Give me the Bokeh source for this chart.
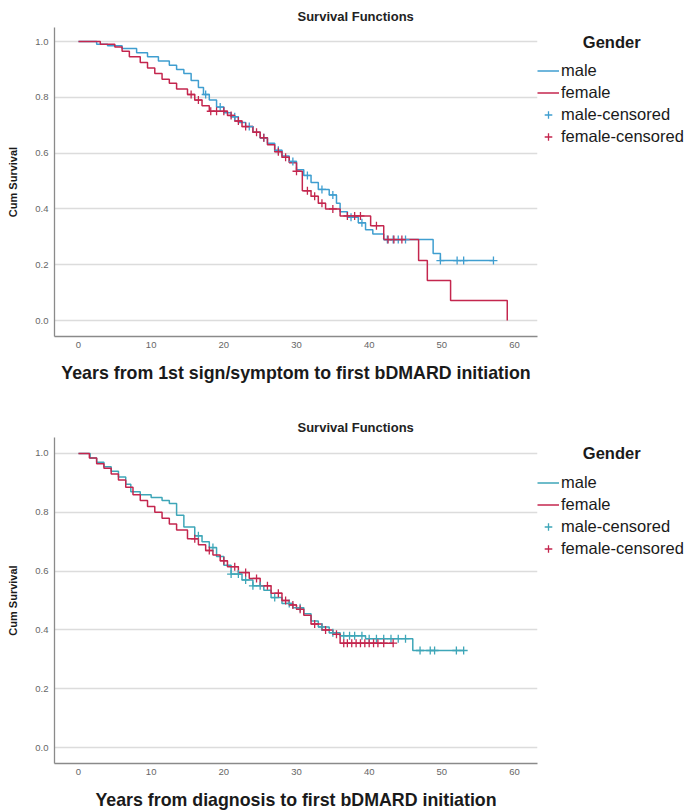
import numpy as np
from bokeh.plotting import figure
from bokeh.models import (FixedTicker, Legend, LegendItem, Range1d,
                          ColumnDataSource, NumeralTickFormatter)
from bokeh.layouts import column
from bokeh.embed import file_html
from bokeh.resources import INLINE

FONT = "Liberation Sans"
MALE_TOP = "#3f9ed0"
MALE_BOTTOM = "#3ea6b8"
FEMALE = "#c4264e"

# ---- Kaplan-Meier estimates: time from 1st sign/symptom ----
sym_male_t = [0, 2.5, 4, 6, 8, 9.5, 11, 12.5, 13.5, 14.5, 15.5, 16.5, 17.2, 18, 19, 20,
              21, 22, 23, 24, 25, 26, 27, 28, 29, 30, 31, 32, 33, 34.5, 35.5, 36, 37,
              38.5, 39.5, 40.5, 42, 48.8, 49.8]
sym_male_s = [1.0, 0.99, 0.985, 0.975, 0.96, 0.945, 0.93, 0.915, 0.9, 0.885, 0.86, 0.835,
              0.81, 0.79, 0.765, 0.745, 0.73, 0.71, 0.695, 0.675, 0.655, 0.635, 0.61, 0.59,
              0.57, 0.54, 0.52, 0.495, 0.47, 0.45, 0.42, 0.39, 0.37, 0.35, 0.325, 0.31,
              0.29, 0.24, 0.215]
sym_male_last = 57.1
sym_male_cens = [17.5, 19.5, 21.5, 23.5, 25.5, 27.5, 29.5, 31.5, 33.5, 35, 37.5, 39,
                 42.5, 43.3, 44, 45, 49.8, 52.1, 53, 57.1]

sym_female_t = [0, 3, 5, 6, 7, 8.5, 9.5, 10.5, 11.5, 12.5, 13.5, 15, 16, 17, 18, 20.5,
                21.5, 22.5, 24, 25, 26, 27, 28, 29, 30, 30.8, 32, 33, 34, 36, 40.2, 42,
                46.8, 48, 51.2, 59]
sym_female_s = [1.0, 0.99, 0.98, 0.965, 0.945, 0.925, 0.905, 0.885, 0.865, 0.85, 0.83,
                0.81, 0.79, 0.77, 0.75, 0.735, 0.715, 0.695, 0.675, 0.655, 0.63, 0.605,
                0.585, 0.565, 0.535, 0.465, 0.445, 0.42, 0.40, 0.375, 0.34, 0.29, 0.215,
                0.143, 0.072, 0.0]
sym_female_last = 59
sym_female_cens = [15.5, 16.5, 18.2, 19, 20, 21, 22, 23, 24.5, 25.5, 27.5, 28.5, 30,
                   31.5, 32.5, 33.5, 35, 37, 38, 38.8, 41, 42.6, 43.4, 44.5]

# ---- Kaplan-Meier estimates: time from diagnosis ----
dx_male_t = [0, 1.6, 2.5, 3.5, 4.5, 5.5, 6.5, 7.2, 8.5, 10, 11.5, 12.5, 13.5, 14.5, 16,
             17, 18, 19, 20, 21, 22.5, 24, 25.5, 26.5, 28, 29.5, 31, 32, 33, 34.5, 36,
             39.5, 46]
dx_male_s = [1.0, 0.985, 0.97, 0.955, 0.94, 0.92, 0.895, 0.87, 0.86, 0.85, 0.84, 0.83,
             0.79, 0.75, 0.72, 0.70, 0.68, 0.65, 0.62, 0.59, 0.57, 0.55, 0.535, 0.51,
             0.49, 0.475, 0.455, 0.43, 0.41, 0.39, 0.38, 0.37, 0.33]
dx_male_last = 53
dx_male_cens = [16.5, 18.5, 21, 22, 23, 24, 25, 27, 29, 30.5, 33.5, 35, 36.5, 37.3, 38,
                39, 40, 41, 42, 43, 44, 45, 47, 48.4, 49, 52, 53]

dx_female_t = [0, 1.5, 2.5, 3.5, 4.5, 5.5, 6.5, 7.5, 8.5, 9.5, 10.5, 11.5, 12.5, 13.5,
               15, 16.5, 17.5, 18.5, 19.5, 20.5, 22, 23.5, 25, 26.5, 28, 29, 30, 31, 32,
               33.5, 35, 36]
dx_female_s = [1.0, 0.985, 0.965, 0.95, 0.93, 0.91, 0.885, 0.86, 0.84, 0.82, 0.80, 0.78,
               0.76, 0.74, 0.71, 0.69, 0.67, 0.655, 0.635, 0.615, 0.595, 0.575, 0.55,
               0.525, 0.50, 0.485, 0.47, 0.45, 0.42, 0.40, 0.385, 0.355]
dx_female_last = 43.3
dx_female_cens = [16, 18, 20, 21.5, 23, 24.5, 26, 27.5, 28.5, 29.5, 30.5, 32.5, 34, 35.5,
                  36.5, 37, 37.6, 38.2, 38.8, 39.4, 40, 40.6, 41.2, 42, 43.3]

x_ticks = [0, 10, 20, 30, 40, 50, 60]
y_ticks = [0.0, 0.2, 0.4, 0.6, 0.8, 1.0]
group_labels = ["male", "female", "male-censored", "female-censored"]
legend_title = "Gender"


def step_source(times, surv, last):
    xs, ys = list(times), list(surv)
    if last > xs[-1]:
        xs.append(last)
        ys.append(ys[-1])
    return ColumnDataSource(dict(x=xs, y=ys))


def censor_source(times, surv, cens):
    t = np.asarray(times, dtype=float)
    s = np.asarray(surv, dtype=float)
    idx = np.searchsorted(t, np.asarray(cens, dtype=float), side="right") - 1
    return ColumnDataSource(dict(x=list(cens), y=list(s[idx])))


def km_panel(curves, male_color, x_title, frame_top, frame_h, total_h,
             y_pad_top, y_pad_bottom, title_standoff, legend_pos, legend_title_standoff):
    p = figure(frame_width=483, frame_height=frame_h,
               min_border_left=54, min_border_right=161,
               min_border_top=frame_top, min_border_bottom=total_h - frame_top - frame_h,
               x_range=Range1d(-3.3, 63.16),
               y_range=Range1d(-y_pad_bottom, 1.0 + y_pad_top),
               output_backend="svg", toolbar_location=None,
               background_fill_color="white", border_fill_color="white")
    p.outline_line_color = None

    p.title.text = "Survival Functions"
    p.title.text_font = FONT
    p.title.text_font_size = "13px"
    p.title.text_font_style = "bold"
    p.title.text_color = "#222222"
    p.title.align = "left"
    p.title.offset = 243
    p.title.standoff = title_standoff

    for ax in (p.xaxis[0], p.yaxis[0]):
        ax.axis_line_color = "#8a8a8a"
        ax.axis_line_width = 1.3
        ax.major_tick_line_color = None
        ax.minor_tick_line_color = None
        ax.major_tick_in = 0
        ax.major_tick_out = 0
        ax.minor_tick_in = 0
        ax.minor_tick_out = 0
        ax.major_label_text_font = FONT
        ax.major_label_text_font_size = "9.5px"
        ax.major_label_text_color = "#666666"
        ax.axis_label_text_font = FONT
        ax.axis_label_text_font_style = "bold"
        ax.axis_label_text_color = "#1a1a1a"

    p.xaxis.ticker = FixedTicker(ticks=x_ticks)
    p.xaxis.major_label_standoff = 5
    p.xaxis.axis_label = x_title
    p.xaxis.axis_label_text_font_size = "17.8px"
    p.xaxis.axis_label_standoff = 12

    p.yaxis.ticker = FixedTicker(ticks=y_ticks)
    p.yaxis.formatter = NumeralTickFormatter(format="0.0")
    p.yaxis.major_label_standoff = 6
    p.yaxis.axis_label = "Cum Survival"
    p.yaxis.axis_label_text_font_size = "11px"
    p.yaxis.axis_label_standoff = 13

    p.xgrid.grid_line_color = None
    p.ygrid.ticker = FixedTicker(ticks=y_ticks)
    p.ygrid.grid_line_color = "#dcdcdc"
    p.ygrid.grid_line_width = 1.6

    (mt, ms, ml, mc), (ft, fs, fl, fc) = curves
    r_male = p.step("x", "y", source=step_source(mt, ms, ml), mode="after",
                    line_color=male_color, line_width=1.5)
    r_female = p.step("x", "y", source=step_source(ft, fs, fl), mode="after",
                      line_color=FEMALE, line_width=1.5)
    r_mc = p.scatter("x", "y", source=censor_source(mt, ms, mc), marker="cross",
                     size=8, line_color=male_color, line_width=1.3)
    r_fc = p.scatter("x", "y", source=censor_source(ft, fs, fc), marker="cross",
                     size=8, line_color=FEMALE, line_width=1.3)

    # legend sits in the right-hand panel; the title is nudged right with
    # non-breaking spaces so it sits centred over the entries
    legend = Legend(items=[LegendItem(label=group_labels[0], renderers=[r_male]),
                           LegendItem(label=group_labels[1], renderers=[r_female]),
                           LegendItem(label=group_labels[2], renderers=[r_mc]),
                           LegendItem(label=group_labels[3], renderers=[r_fc])],
                    location=legend_pos, title="\u00a0" * 10 + legend_title)
    legend.padding = 3
    legend.margin = 0
    legend.spacing = 3
    legend.glyph_width = 22
    legend.glyph_height = 19
    legend.label_height = 19
    legend.label_standoff = 2
    legend.label_text_font = FONT
    legend.label_text_font_size = "16.5px"
    legend.label_text_color = "#1a1a1a"
    legend.title_text_font = FONT
    legend.title_text_font_size = "16.5px"
    legend.title_text_font_style = "bold"
    legend.title_text_color = "#1a1a1a"
    legend.title_standoff = legend_title_standoff
    legend.border_line_color = None
    legend.background_fill_alpha = 0
    p.add_layout(legend, "right")
    return p


top = km_panel(((sym_male_t, sym_male_s, sym_male_last, sym_male_cens),
                (sym_female_t, sym_female_s, sym_female_last, sym_female_cens)),
               MALE_TOP, "Years from 1st sign/symptom to first bDMARD initiation",
               frame_top=27, frame_h=309, total_h=400,
               y_pad_top=0.0502, y_pad_bottom=0.0573,
               title_standoff=8, legend_pos=(0, 190.5), legend_title_standoff=9)

bottom = km_panel(((dx_male_t, dx_male_s, dx_male_last, dx_male_cens),
                   (dx_female_t, dx_female_s, dx_female_last, dx_female_cens)),
                  MALE_BOTTOM, "Years from diagnosis to first bDMARD initiation",
                  frame_top=37, frame_h=326, total_h=412,
                  y_pad_top=0.0544, y_pad_bottom=0.0544,
                  title_standoff=5, legend_pos=(0, 205.5), legend_title_standoff=10)

layout = column(top, bottom, spacing=0)
open("out.html", "w").write(file_html(layout, INLINE))
